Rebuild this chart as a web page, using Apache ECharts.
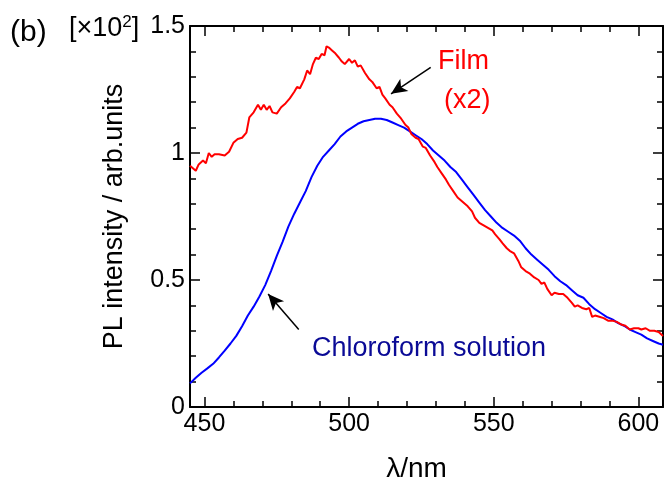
<!DOCTYPE html>
<html>
<head>
<meta charset="utf-8">
<script src="https://cdn.jsdelivr.net/npm/echarts@6/dist/echarts.min.js"></script>
<style>
  html, body { margin: 0; padding: 0; background: #fff; }
  #main { width: 664px; height: 488px; }
</style>
</head>
<body>
<div id="main"></div>
<script>
  // film spectrum (x2), [wavelength nm, intensity x10^2]
  const filmData = [
    [445, 0.95], [446, 0.94], [447, 0.93], [448, 0.955], [449.5, 0.97], [450.5, 0.96],
    [451.5, 1.0], [452.5, 0.985], [453.5, 0.995], [455, 0.995], [457, 0.99], [458.5, 1.005],
    [460, 1.04], [461.5, 1.055], [463, 1.06], [464.5, 1.08], [465.5, 1.14], [467, 1.16],
    [468.5, 1.19], [469.5, 1.17], [470.5, 1.19], [471.5, 1.17], [472.5, 1.185], [473.5, 1.16],
    [475, 1.155], [476.5, 1.18], [478, 1.195], [479.5, 1.215], [481, 1.24], [482, 1.26],
    [483, 1.255], [484.5, 1.29], [485.5, 1.325], [486.5, 1.31], [487.5, 1.35], [488.5, 1.375],
    [489.5, 1.37], [490.5, 1.39], [491.5, 1.385], [492.2, 1.42], [493, 1.415], [494, 1.405],
    [495, 1.395], [496.5, 1.375], [497.5, 1.36], [498.5, 1.35], [500, 1.37], [501, 1.355],
    [502, 1.365], [503, 1.34], [504, 1.345], [505.5, 1.315], [507, 1.29], [508, 1.28],
    [509.5, 1.255], [510.5, 1.26], [511.5, 1.23], [512.5, 1.215], [514, 1.19], [515, 1.18],
    [516.5, 1.155], [518, 1.135], [519.5, 1.11], [520.5, 1.1], [521.5, 1.075], [523, 1.06],
    [524, 1.055], [525.5, 1.025], [526.5, 1.02], [528, 0.99], [529.5, 0.965], [530.5, 0.945],
    [532, 0.92], [533.5, 0.895], [534.5, 0.875], [536, 0.85], [537.5, 0.825], [538.5, 0.815],
    [540, 0.8], [541, 0.79], [542.5, 0.77], [543.5, 0.745], [545, 0.725], [546.5, 0.715],
    [548, 0.705], [549.5, 0.695], [550.5, 0.68], [552, 0.66], [553, 0.645], [554.5, 0.625],
    [555.5, 0.615], [557, 0.605], [558.5, 0.575], [559.5, 0.55], [561, 0.535], [562.5, 0.525],
    [564, 0.51], [565.5, 0.5], [566.5, 0.485], [567.5, 0.49], [568.5, 0.465], [570, 0.44],
    [571, 0.45], [572.5, 0.445], [574, 0.445], [575.5, 0.43], [577, 0.41], [578, 0.395],
    [579, 0.4], [580.5, 0.39], [582, 0.385], [583, 0.39], [584, 0.355], [585, 0.36],
    [586.5, 0.355], [588, 0.35], [589.5, 0.34], [591, 0.34], [592.5, 0.335], [594, 0.325],
    [595.5, 0.32], [597, 0.305], [598.5, 0.31], [600, 0.31], [601, 0.305], [602.5, 0.31],
    [604, 0.3], [605.5, 0.3], [607, 0.295], [608.5, 0.28]
  ];

  // chloroform solution spectrum
  const solutionData = [
    [445, 0.093], [447, 0.115], [449, 0.135], [451, 0.152], [453, 0.17], [455, 0.195],
    [457, 0.222], [459, 0.25], [461, 0.28], [463, 0.318], [465, 0.36], [467, 0.395],
    [469, 0.435], [471, 0.48], [473, 0.535], [475, 0.595], [477, 0.65], [479, 0.71],
    [481, 0.76], [483, 0.805], [485, 0.85], [487, 0.905], [489, 0.95], [491, 0.985],
    [493, 1.01], [495, 1.035], [497, 1.065], [499, 1.085], [501, 1.1], [503, 1.115],
    [505, 1.125], [507, 1.13], [509, 1.135], [511, 1.135], [513, 1.13], [515, 1.12],
    [517, 1.11], [519, 1.1], [521, 1.085], [523, 1.07], [525, 1.055], [527, 1.035],
    [529, 1.01], [531, 0.99], [533, 0.97], [535, 0.945], [537, 0.925], [539, 0.895],
    [541, 0.865], [543, 0.835], [545, 0.805], [547, 0.775], [549, 0.75], [551, 0.725],
    [553, 0.705], [555, 0.69], [557, 0.675], [559, 0.655], [561, 0.625], [563, 0.6],
    [565, 0.58], [567, 0.56], [569, 0.54], [571, 0.515], [573, 0.495], [575, 0.48],
    [577, 0.46], [579, 0.44], [581, 0.43], [583, 0.405], [585, 0.385], [587, 0.37],
    [589, 0.355], [591, 0.345], [593, 0.33], [595, 0.32], [597, 0.305], [599, 0.295],
    [601, 0.285], [603, 0.27], [605, 0.26], [607, 0.25], [608.5, 0.245]
  ];

  const xMajorTicks = [450, 500, 550, 600];
  const xMinorTicks = [450, 460, 470, 480, 490, 500, 510, 520, 530, 540, 550, 560, 570, 580, 590, 600];

  // arrows: [from, to] in data coords
  const filmArrow = [[528.2, 1.337], [514.5, 1.233]];
  const solutionArrow = [[482.6, 0.305], [472, 0.445]];

  const font = "'Liberation Sans', Arial, sans-serif";
  let chart = echarts.init(document.getElementById('main'));

  function xAx(position, ticks, len, showLine, showLabel) {
    return {
      type: 'value', position: position, min: 445, max: 608.5,
      axisLine: { show: showLine, onZero: false, lineStyle: { color: '#000', width: 2 } },
      axisTick: { show: true, inside: true, length: len, customValues: ticks, lineStyle: { color: '#000', width: 1.5 } },
      axisLabel: { show: showLabel, customValues: ticks, margin: 5, color: '#000', fontSize: 25, fontFamily: font },
      splitLine: { show: false }
    };
  }
  function yAx(position, showLabel) {
    return {
      type: 'value', position: position, min: 0, max: 1.5, interval: 0.5,
      axisLine: { show: true, onZero: false, lineStyle: { color: '#000', width: 2 } },
      axisTick: { show: true, inside: true, length: 10, lineStyle: { color: '#000', width: 1.5 } },
      minorTick: { show: true, splitNumber: 5, length: 6, lineStyle: { color: '#000', width: 1.5 } },
      axisLabel: { show: showLabel, margin: 5, color: '#000', fontSize: 25, fontFamily: font },
      splitLine: { show: false }
    };
  }

  let xAxes = [
    xAx('bottom', xMajorTicks, 10, true, true),
    xAx('bottom', xMinorTicks, 6, false, false),
    xAx('top', xMajorTicks, 10, true, false),
    xAx('top', xMinorTicks, 6, false, false)
  ];
  xAxes[0].name = 'λ/nm';
  xAxes[0].nameLocation = 'middle';
  xAxes[0].nameGap = 48;
  xAxes[0].nameTextStyle = { color: '#000', fontSize: 28, fontFamily: font, padding: [0, 20, 0, 0] };

  let yAxes = [yAx('left', true), yAx('right', false)];
  yAxes[0].name = 'PL intensity / arb.units';
  yAxes[0].nameLocation = 'middle';
  yAxes[0].nameGap = 62;
  yAxes[0].nameTextStyle = { color: '#000', fontSize: 27, fontFamily: font };

  function arrow(pair) {
    return {
      silent: true,
      symbol: ['none', 'arrow'],
      symbolSize: [11, 16],
      label: { show: false },
      lineStyle: { color: '#000', width: 1.5, type: 'solid' },
      data: [[{ coord: pair[0] }, { coord: pair[1] }]],
      animation: false
    };
  }

  let option = {
    animation: false,
    backgroundColor: '#fff',
    grid: { left: 190, right: 1, top: 26, bottom: 74 },
    xAxis: xAxes,
    yAxis: yAxes,
    series: [
      {
        name: 'Chloroform solution', type: 'line', data: solutionData,
        showSymbol: false, lineStyle: { color: '#0000ff', width: 2 }, itemStyle: { color: '#0000ff' },
        markLine: arrow(solutionArrow)
      },
      {
        name: 'Film', type: 'line', data: filmData,
        showSymbol: false, lineStyle: { color: '#ff0000', width: 2 }, itemStyle: { color: '#ff0000' },
        markLine: arrow(filmArrow)
      }
    ],
    graphic: [
      { type: 'text', left: 10, top: 18, style: { text: '(b)', fontSize: 30, fontFamily: font, fill: '#000' } },
      {
        type: 'text', left: 69, top: 14,
        style: {
          text: '[×10{s|2}]', fontSize: 27, fontFamily: font, fill: '#000',
          rich: { s: { fontSize: 17, fontFamily: font, verticalAlign: 'top', padding: [0, 0, 12, 0] } }
        }
      },
      { type: 'text', left: 438, top: 48, style: { text: 'Film', fontSize: 27, fontFamily: font, fill: '#ff0000' } },
      { type: 'text', left: 444, top: 87, style: { text: '(x2)', fontSize: 27, fontFamily: font, fill: '#ff0000' } },
      { type: 'text', left: 312, top: 335, style: { text: 'Chloroform solution', fontSize: 27, fontFamily: font, fill: '#0a0a96' } }
    ]
  };
  chart.setOption(option);
</script>
</body>
</html>
